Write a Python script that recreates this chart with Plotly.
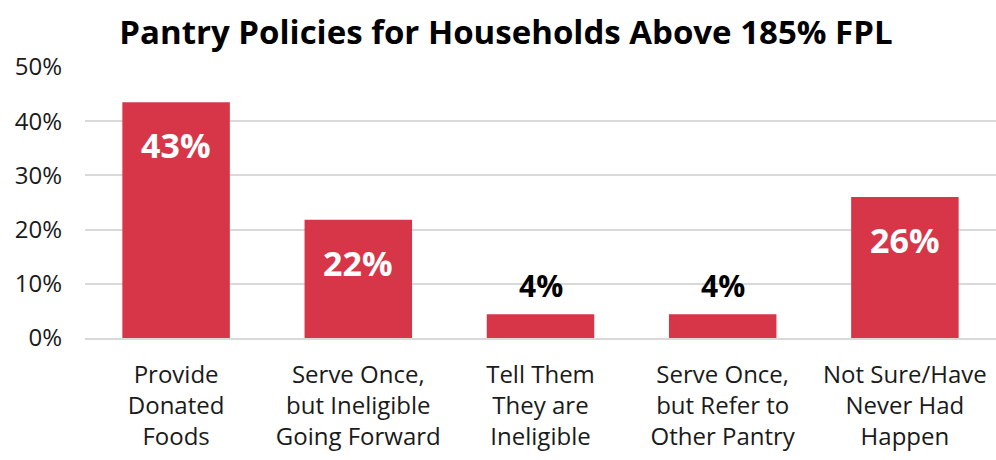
import plotly.graph_objects as go

categories = ["Provide<br>Donated<br>Foods", "Serve Once,<br>but Ineligible<br>Going Forward",
              "Tell Them<br>They are<br>Ineligible", "Serve Once,<br>but Refer to<br>Other Pantry",
              "Not Sure/Have<br>Never Had<br>Happen"]
values = [43.5, 21.8, 4.4, 4.4, 26.0]
labels = ["43%", "22%", "4%", "4%", "26%"]
inside = [True, True, False, False, True]

red = "#D73649"
font = "Open Sans"

fig = go.Figure()
fig.add_trace(go.Bar(
    x=categories, y=values,
    marker=dict(color=red, line=dict(width=0)),
    hoverinfo="skip",
))

for c, v, t, ins in zip(categories, values, labels, inside):
    fig.add_annotation(
        x=c, y=v, text=f"<b>{t}</b>", showarrow=False,
        yanchor="top" if ins else "bottom",
        yshift=-18 if ins else 6,
        font=dict(family=font, size=34 if ins else 30, color="white" if ins else "black"),
    )

fig.update_layout(
    width=996, height=460,
    margin=dict(l=85, r=0, t=67, b=122),
    paper_bgcolor="white", plot_bgcolor="white",
    bargap=0.41,
    showlegend=False,
    title=dict(text="<b>Pantry Policies for Households Above 185% FPL</b>",
               x=0.508, xanchor="center", y=0.93, yanchor="middle",
               font=dict(family=font, size=33, color="black")),
    font=dict(family=font, color="#1a1a1a"),
)
fig.update_yaxes(range=[0, 50], dtick=10, ticksuffix="%", showgrid=True,
                 gridcolor="#d9d9d9", gridwidth=2, zeroline=False,
                 tickfont=dict(size=24, family=font, color="#1a1a1a"),
                 ticks="", showline=False, ticklabelstandoff=22, fixedrange=True)
fig.update_xaxes(showgrid=False, showline=True, linecolor="#d9d9d9", linewidth=2,
                 ticks="outside", ticklen=14, tickcolor="rgba(0,0,0,0)",
                 tickfont=dict(size=24, family=font, color="#1a1a1a"), fixedrange=True)

fig.write_html("out.html")
